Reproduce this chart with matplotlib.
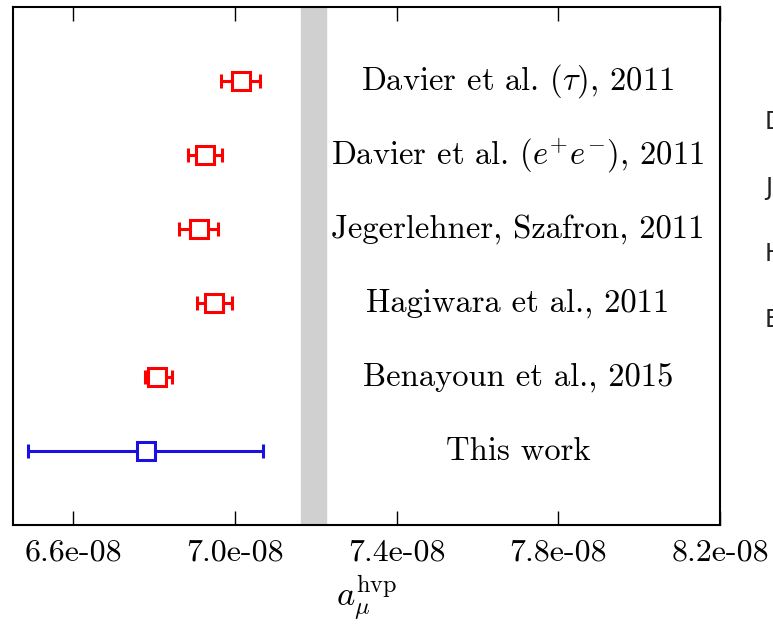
import numpy as np
import matplotlib
matplotlib.use("Agg")
import matplotlib.pyplot as plt
from matplotlib.ticker import FormatStrFormatter

plt.rcParams['font.family'] = 'serif'
plt.rcParams['font.serif'] = ['cmr10']
plt.rcParams['mathtext.fontset'] = 'cm'
plt.rcParams['axes.unicode_minus'] = False
plt.rcParams['axes.formatter.use_mathtext'] = True

labels = [r"Davier et al. $(\tau)$, 2011",
          r"Davier et al. $(e^{+}e^{-})$, 2011",
          "Jegerlehner, Szafron, 2011",
          "Hagiwara et al., 2011",
          "Benayoun et al., 2015"]
vals = [7.014e-08, 6.925e-08, 6.910e-08, 6.948e-08, 6.806e-08]
lo = [6.965e-08, 6.883e-08, 6.862e-08, 6.906e-08, 6.777e-08]
hi = [7.062e-08, 6.967e-08, 6.958e-08, 6.993e-08, 6.843e-08]

this_val = 6.779e-08
this_lo = 6.488e-08
this_hi = 7.070e-08

band = (7.1625e-08, 7.226e-08)
side_names = ["Davier", "Jegerlehner", "Hagiwara", "Benayoun"]

fig = plt.figure(figsize=(7.73, 6.30), dpi=100)
ax = fig.add_axes([0.0164, 0.1667, 0.9150, 0.8222])

ax.axvspan(band[0], band[1], color='#d0d0d0', zorder=0)

ys = np.arange(5, 0, -1)
vals = np.array(vals)
err = [vals - np.array(lo), np.array(hi) - vals]
ax.errorbar(vals, ys, xerr=err, fmt='s', color='red', mfc='white', mec='red',
            ms=13, mew=2.2, elinewidth=2.2, capsize=5, capthick=2.2)
ax.errorbar([this_val], [0], xerr=[[this_val - this_lo], [this_hi - this_val]],
            fmt='s', color='#1a10e0', mfc='white', mec='#1a10e0',
            ms=13, mew=2.2, elinewidth=2.2, capsize=5, capthick=2.2)

for y, lab in zip(ys, labels):
    ax.text(7.70e-08, y, lab, ha='center', va='center', fontsize=23.5)
ax.text(7.70e-08, 0, "This work", ha='center', va='center', fontsize=23.5)

ax.set_xlim(6.45e-08, 8.2e-08)
ax.set_ylim(-1, 6)
ax.set_yticks([])
ax.set_xticks([6.6e-08, 7.0e-08, 7.4e-08, 7.8e-08, 8.2e-08])
ax.xaxis.set_major_formatter(FormatStrFormatter('%.1e'))
ax.tick_params(axis='x', direction='in', top=True, length=10, width=1,
               labelsize=23, pad=10)
for s in ax.spines.values():
    s.set_linewidth(1.5)
ax.set_xlabel(r"$a_\mu^{\rm hvp}$", fontsize=25, labelpad=5)

for i, n in enumerate(side_names):
    fig.text(765 / 773, 1 - (122 + 66 * i) / 630, n, family='DejaVu Sans',
             fontsize=17, va='center', ha='left', color='#222222')

fig.savefig("out.png", dpi=100)
